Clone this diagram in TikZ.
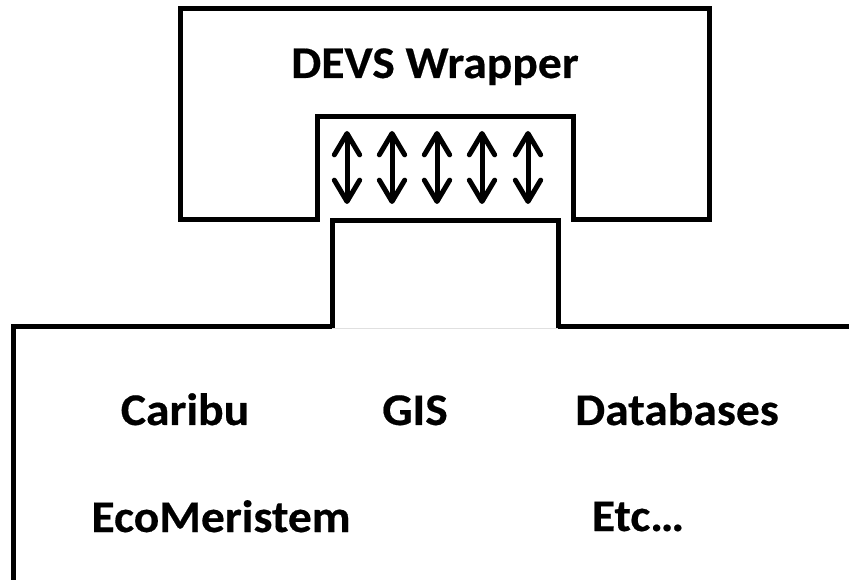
\documentclass[tikz,border=0pt]{standalone}
\usepackage{fontspec}
\setmainfont{Carlito}[BoldFeatures={FakeBold=0.4}]
\usetikzlibrary{arrows.meta}
\newcommand\widetext[1]{\scalebox{1.05}[1]{#1}}
\tikzset{
  wall/.style  ={draw, line width=3.75pt, line join=miter},
  seam/.style  ={draw=black!12, line width=0.75pt},
  lbl/.style   ={font=\fontsize{34}{40}\selectfont\bfseries, anchor=base, inner sep=0pt},
  flowbi/.style={{Straight Barb[round, length=16pt, width=19pt]}-{Straight Barb[round, length=16pt, width=19pt]}, line width=3.75pt},
}
\begin{document}
\begin{tikzpicture}[x=0.75pt, y=-0.75pt]
  \useasboundingbox (0,0) rectangle (849,580);
  % wrapper with its socket
  \draw[wall] (180,220) -- (180,9) -- (709,9) -- (709,220) -- (573,220)
              -- (573,117) -- (317,117) -- (317,220) -- cycle;
  % models below, with the plug
  \draw[wall] (13,580) -- (13,327) -- (332,327) -- (332,221) -- (558,221)
              -- (558,327) -- (849,327);
  \draw[seam] (332,329) -- (558,329);

  \node[lbl] (wrapper) at (435,78)  {\widetext{DEVS Wrapper}};
  \node[lbl] (caribu)  at (185,425) {\widetext{Caribu}};
  \node[lbl] (gis)     at (415,425) {\widetext{GIS}};
  \node[lbl] (db)      at (677,425) {\widetext{Databases}};
  \node[lbl] (ecomer)  at (221,532) {\widetext{EcoMeristem}};
  \node[lbl] (etc)     at (638,531) {\widetext{Etc…}};

  \foreach \i/\x in {1/347, 2/392, 3/437, 4/482, 5/528} {
    \coordinate (up\i) at (\x,131);
    \coordinate (dn\i) at (\x,204);
    \draw[flowbi] (up\i) -- (dn\i);
  }
\end{tikzpicture}
\end{document}
